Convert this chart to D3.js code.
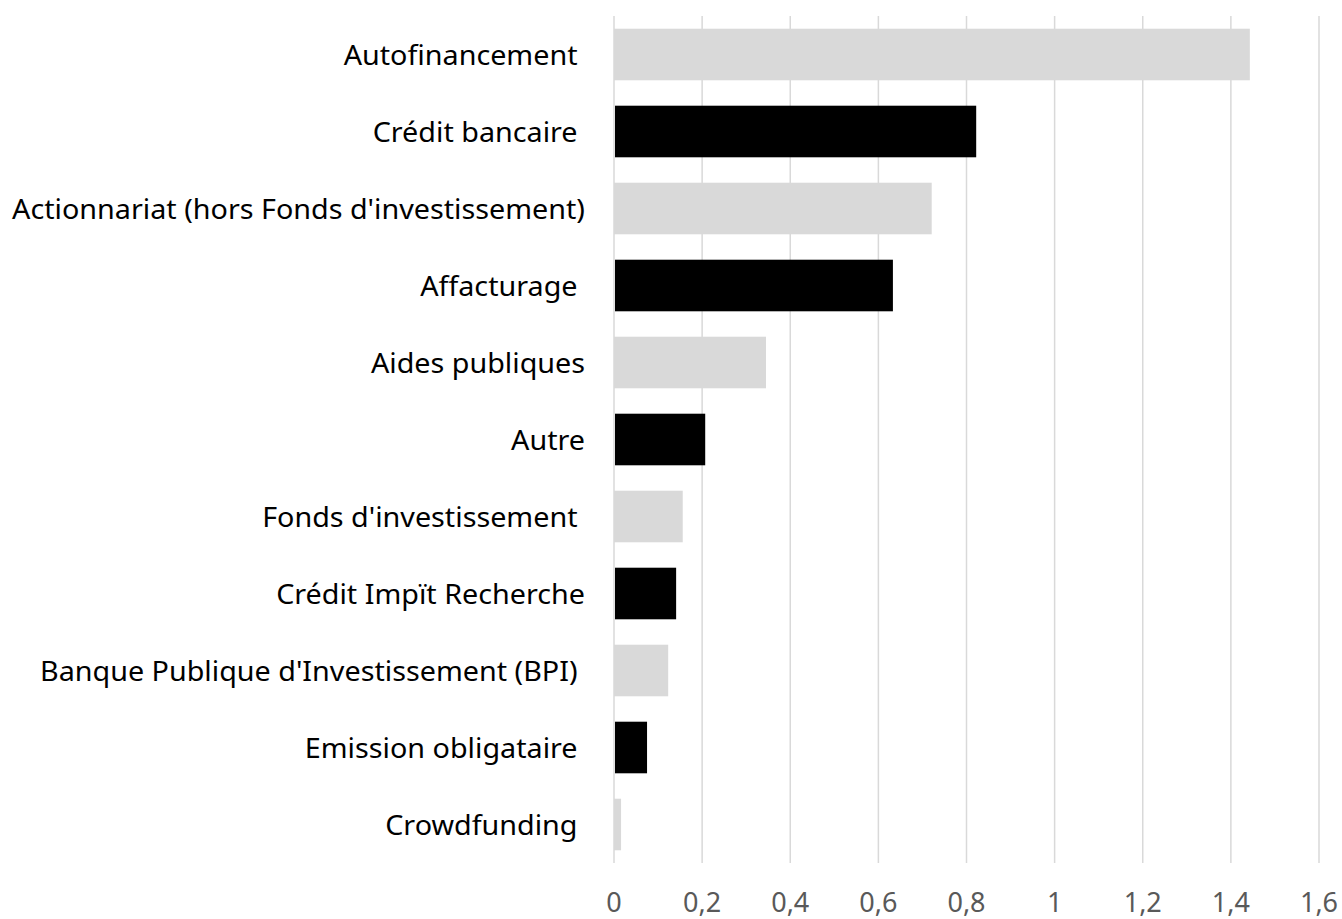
<!DOCTYPE html>
<html><head><meta charset="utf-8">
<script src="https://cdn.jsdelivr.net/npm/d3@7"></script>
<style>body{margin:0;background:#fff}svg{display:block}text{white-space:pre}</style>
</head><body>
<svg id="c" width="1342" height="919"></svg>
<script>
const categories = ["Autofinancement ", "Crédit bancaire ", "Actionnariat (hors Fonds d'investissement)", "Affacturage ", "Aides publiques", "Autre", "Fonds d'investissement ", "Crédit Impït Recherche", "Banque Publique d'Investissement (BPI) ", "Emission obligataire ", "Crowdfunding "];
const values = [1.443, 0.822, 0.721, 0.633, 0.345, 0.207, 0.156, 0.141, 0.123, 0.075, 0.016];
const barColors = ["#d9d9d9", "#000000"];
const tickValues = [0, 0.2, 0.4, 0.6, 0.8, 1, 1.2, 1.4, 1.6];

const svg = d3.select("#c");
const x = d3.scaleLinear().domain([0, 1.6]).range([614, 1319]);
const y = d3.scaleBand().domain(categories).range([16, 863]).paddingInner(0.33).paddingOuter(0.165);

// gridlines
svg.append("g").selectAll("line").data(tickValues).join("line")
  .attr("x1", d => x(d)).attr("x2", d => x(d)).attr("y1", 16).attr("y2", 863)
  .attr("stroke", "#d9d9d9").attr("stroke-width", 1.5);

// bars
svg.append("g").selectAll("rect").data(values).join("rect")
  .attr("x", (d, i) => x(0) + (i % 2 ? 1 : 0))
  .attr("y", (d, i) => y(categories[i]))
  .attr("width", (d, i) => x(d) - x(0) - (i % 2 ? 1 : 0))
  .attr("height", y.bandwidth())
  .attr("fill", (d, i) => barColors[i % 2]);

const font = "'Noto Sans', 'Open Sans', sans-serif";
// measure longest label to fit reference width
const probe = svg.append("text").attr("font-family", font).attr("font-size", 28)
  .text(categories[2]);
const len = probe.node().getComputedTextLength();
probe.remove();
const sx = Math.min(1.1, 573 / len);

// category labels
const lab = svg.append("g");
categories.forEach(c => {
  lab.append("text")
    .attr("transform", `translate(585,${y(c) + y.bandwidth() / 2}) scale(${sx},1)`)
    .attr("text-anchor", "end").attr("dy", "0.36em")
    .attr("font-family", font).attr("font-size", 28).attr("fill", "#000")
    .text(c);
});

// x axis labels
const fmt = d => String(d).replace(".", ",");
const ax = svg.append("g");
tickValues.forEach(t => {
  ax.append("text")
    .attr("x", x(t)).attr("y", 912)
    .attr("text-anchor", "middle")
    .attr("font-family", font).attr("font-size", 27).attr("fill", "#595959")
    .text(fmt(t));
});
</script>
</body></html>
